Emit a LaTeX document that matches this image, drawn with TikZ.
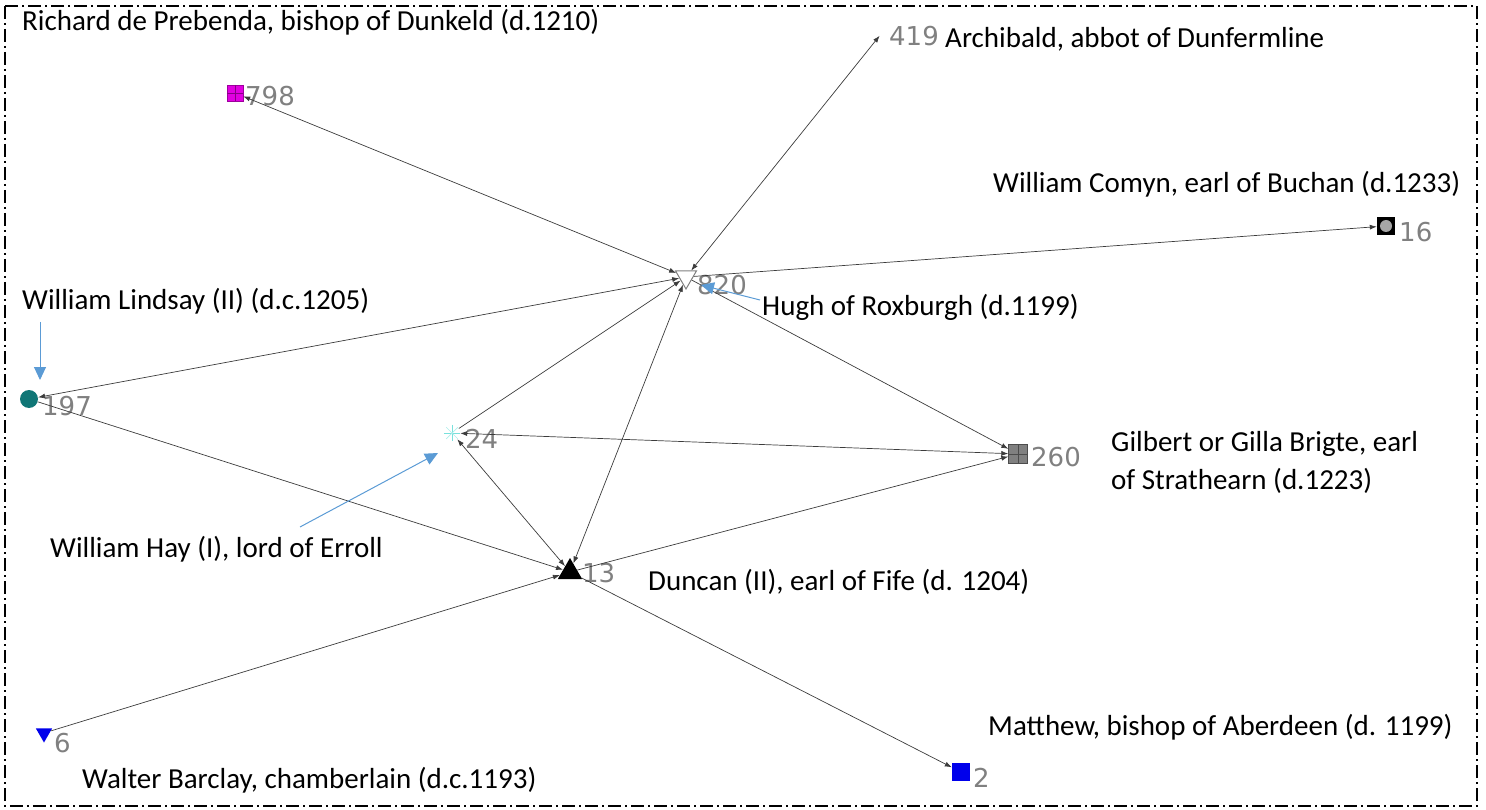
\documentclass[tikz,border=0pt]{standalone}
\usepackage{fontspec}
\setmainfont{Carlito}
\newfontfamily\numfont{DejaVu Sans}
\usetikzlibrary{arrows.meta, shapes.geometric}

\definecolor{numgray}{RGB}{128,128,128}
\definecolor{tiegray}{RGB}{60,60,60}
\definecolor{ptblue}{RGB}{91,155,213}
\definecolor{tealmark}{RGB}{16,118,118}
\definecolor{magmark}{RGB}{225,0,225}
\definecolor{bluemark}{RGB}{0,0,235}
\definecolor{cyanmark}{RGB}{120,225,220}

\begin{document}
\begin{tikzpicture}[x=1pt, y=-1pt,
    % Define the style for the ties
    tie/.style={draw=tiegray, line width=0.7pt, -{Latex[length=7pt,width=5pt]}},
    bitie/.style={tie, {Latex[length=7pt,width=5pt]}-{Latex[length=7pt,width=5pt]}},
    % Define the text styles
    numlbl/.style={font=\numfont\fontsize{26}{30}\selectfont, text=numgray, inner sep=0pt, anchor=west},
    nametxt/.style={font=\fontsize{29}{38}\selectfont, inner sep=0pt, anchor=base west, align=left},
    pointer/.style={draw=ptblue, line width=1pt, -{Triangle[length=13pt,width=12pt]}},
    % Define the markers
    sqmark/.style={rectangle, minimum size=#1, inner sep=0pt},
    trimark/.style={regular polygon, regular polygon sides=3, minimum size=#1, inner sep=0pt}
]
\useasboundingbox (0,0) rectangle (1486,810);

% frame
\draw[line width=1.4pt, dash pattern=on 13pt off 4pt on 2pt off 4pt] (5,6) rectangle (1477,806);

% Define the markers of the actors
\node[sqmark=16, fill=magmark, draw=magmark!70!black] (n798) at (235,93) {};
\node[trimark=24, shape border rotate=180, draw=numgray, line width=1pt, fill=white] (n820) at (686,277) {};
\node[circle, minimum size=16, inner sep=0pt] (n24) at (452,433) {};
\node[trimark=28, fill=black] (n13) at (570,572) {};
\node[sqmark=19, fill=gray, draw=black!70] (n260) at (1018,454) {};
\node[circle, minimum size=18, inner sep=0pt, fill=tealmark] (n197) at (29,399) {};
\node[inner sep=0pt, minimum size=3] (n419) at (881,34) {};
\node[sqmark=18, fill=black] (n16) at (1386,226) {};
\node[trimark=19, shape border rotate=180, fill=bluemark] (n6) at (44,733) {};
\node[sqmark=18, fill=bluemark] (n2) at (961,772) {};

% inner details of the markers
\draw[magmark!60!black, line width=0.6pt] (n798.north) -- (n798.south) (n798.west) -- (n798.east);
\draw[black!70, line width=0.6pt] (n260.north) -- (n260.south) (n260.west) -- (n260.east);
\fill[gray!70] (n16) circle (6);
\draw[cyanmark, line width=1pt] (n24.north) -- (n24.south) (n24.west) -- (n24.east);
\draw[cyanmark!60, line width=0.7pt] (n24.north west) -- (n24.south east) (n24.north east) -- (n24.south west);

% Add the numbers
\node[numlbl] (l798) at (245,96) {798};
\node[numlbl] (l820) at (697,285) {820};
\node[numlbl] (l24) at (465,439) {24};
\node[numlbl] (l13) at (582,573) {13};
\node[numlbl] (l260) at (1031,457) {260};
\node[numlbl] (l197) at (42,406) {197};
\node[numlbl] (l419) at (889,36) {419};
\node[numlbl] (l16) at (1399,232) {16};
\node[numlbl] (l6) at (54,743) {6};
\node[numlbl] (l2) at (973,778) {2};

% Draw the ties
\draw[bitie] (n798) -- (n820);
\draw[bitie] (n820) -- (n419);
\draw[tie] (n820) -- (n16);
\draw[tie] (n820) -- (n260);
\draw[bitie] (n820) -- (n13);
\draw[bitie] (n197) -- (n820);
\draw[tie] (n197) -- (n13);
\draw[tie] (n24) -- (n820);
\draw[bitie] (n24) -- (n260);
\draw[bitie] (n24) -- (n13);
\draw[tie] (n13) -- (n260);
\draw[tie] (n6) -- (n13);
\draw[tie] (n13) -- (n2);

% Add the names
\node[nametxt] (t798) at (22,31) {Richard de Prebenda, bishop of Dunkeld (d.1210)};
\node[nametxt] (t419) at (945,48) {Archibald, abbot of Dunfermline};
\node[nametxt] (t16) at (993,193) {William Comyn, earl of Buchan (d.1233)};
\node[nametxt] (t820) at (762,316) {Hugh of Roxburgh (d.1199)};
\node[nametxt] (t197) at (22,310) {William Lindsay (II) (d.c.1205)};
\node[nametxt] (t260) at (1111,489) {Gilbert or Gilla Brigte, earl\\of Strathearn (d.1223)};
\node[nametxt] (t24) at (50,557) {William Hay (I), lord of Erroll};
\node[nametxt] (t13) at (648,590) {Duncan (II), earl of Fife (d. 1204)};
\node[nametxt] (t2) at (988,735) {Matthew, bishop of Aberdeen (d. 1199)};
\node[nametxt] (t6) at (82,788) {Walter Barclay, chamberlain (d.c.1193)};

% Draw the blue pointers
\coordinate (p197) at (40,322);
\coordinate (q197) at (40,380);
\coordinate (p820) at (760,300);
\coordinate (q820) at (701,285);
\coordinate (p24) at (300,527);
\coordinate (q24) at (438,453);
\draw[pointer] (p197) -- (q197);
\draw[pointer] (p820) -- (q820);
\draw[pointer] (p24) -- (q24);

\end{tikzpicture}
\end{document}
